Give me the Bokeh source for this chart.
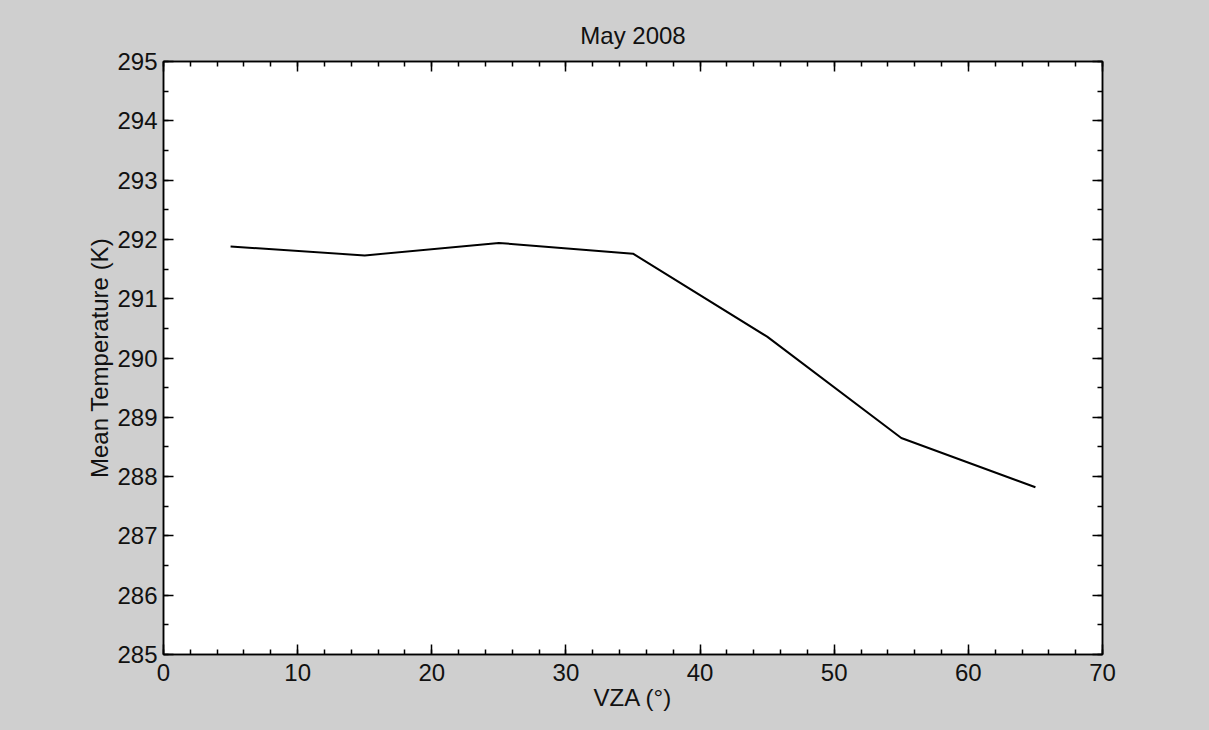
from bokeh.plotting import figure
from bokeh.models import (LinearAxis, SingleIntervalTicker, Range1d,
                          GlobalInlineStyleSheet, CustomJSTickFormatter)
from bokeh.embed import file_html
from bokeh.resources import INLINE

title_text = "May 2008"
x_label = "VZA (°)"
y_label = "Mean Temperature (K)"
vza = [5, 15, 25, 35, 45, 55, 65]
mean_temp = [291.88, 291.73, 291.94, 291.76, 290.36, 288.65, 287.82]

BG = "#cfcfcf"
FONT = "Liberation Sans"

p = figure(width=1209, height=730, frame_width=939, frame_height=593,
           output_backend="svg", toolbar_location=None,
           x_range=Range1d(0, 70), y_range=Range1d(285, 295),
           x_axis_location=None, y_axis_location=None,
           min_border_left=163, min_border_right=107,
           min_border_top=61, min_border_bottom=76)
p.stylesheets = [GlobalInlineStyleSheet(css=f"body {{ background: {BG}; }}")]
p.background_fill_color = "white"
p.border_fill_color = BG
p.outline_line_color = "black"
p.outline_line_width = 1.5
p.grid.visible = False

p.title.text = title_text
p.title.align = "center"
p.title.text_font = FONT
p.title.text_font_size = "24px"
p.title.text_font_style = "normal"
p.title.text_color = "#111111"
p.title.standoff = 25


def style_axis(ax, ticker, labels=True):
    ax.ticker = ticker
    ax.axis_line_color = "black"
    ax.axis_line_width = 1.5
    ax.major_tick_in = 10
    ax.major_tick_out = 0
    ax.minor_tick_in = 5
    ax.minor_tick_out = 0
    ax.major_tick_line_width = 1.5
    ax.minor_tick_line_width = 1.5
    ax.major_tick_line_color = "black"
    ax.minor_tick_line_color = "black"
    ax.major_label_text_font = FONT
    ax.major_label_text_font_size = "24px"
    ax.major_label_text_color = "#111111"
    ax.axis_label_text_font = FONT
    ax.axis_label_text_font_size = "24px"
    ax.axis_label_text_font_style = "normal"
    ax.axis_label_text_color = "#111111"
    if not labels:
        ax.formatter = CustomJSTickFormatter(code="return '';")
        ax.major_label_standoff = 0


xt = SingleIntervalTicker(interval=10, num_minor_ticks=5)
yt = SingleIntervalTicker(interval=1, num_minor_ticks=2)

xb = LinearAxis(axis_label=x_label)
style_axis(xb, xt)
xb.major_label_standoff = 9
xb.axis_label_standoff = 0
p.add_layout(xb, "below")

yl = LinearAxis(axis_label=y_label)
style_axis(yl, yt)
yl.major_label_standoff = 6
yl.axis_label_standoff = 1
p.add_layout(yl, "left")

xa = LinearAxis()
style_axis(xa, SingleIntervalTicker(interval=10, num_minor_ticks=5), labels=False)
p.add_layout(xa, "above")

yr = LinearAxis()
style_axis(yr, SingleIntervalTicker(interval=1, num_minor_ticks=2), labels=False)
p.add_layout(yr, "right")

p.line(vza, mean_temp, line_color="black", line_width=2)

open("out.html", "w").write(file_html(p, INLINE))
